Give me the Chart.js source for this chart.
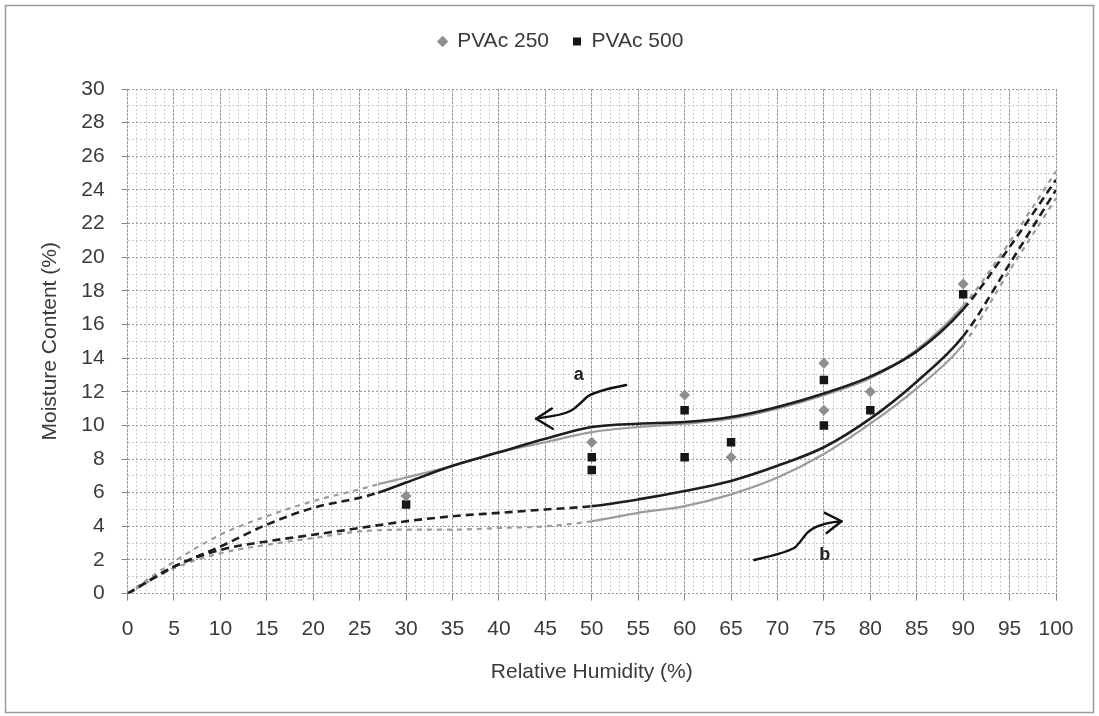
<!DOCTYPE html>
<html>
<head>
<meta charset="utf-8">
<script src="https://cdn.jsdelivr.net/npm/chart.js@4.4.1/dist/chart.umd.min.js"></script>
<style>
html, body { margin: 0; padding: 0; background: #fff; }
#wrap { width: 1099px; height: 716px; }
</style>
</head>
<body>
<div id="wrap"><canvas id="sorptionChart" width="1099" height="716"></canvas></div>
<script>
// measured points
const rh250 = [30, 50, 60, 65, 75, 75, 80, 90];
const mc250 = [5.8, 9.0, 11.8, 8.1, 13.7, 10.9, 12.0, 18.4];
const rh500 = [30, 50, 50, 60, 60, 65, 75, 75, 80, 90];
const mc500 = [5.3, 8.1, 7.35, 10.9, 8.1, 9.0, 12.7, 10.0, 10.9, 17.8];

// fitted curves (a = upper pair, b = lower pair), solid between solidFrom/solidTo, dashed outside
const rhA = [0, 5, 10, 15, 20, 25, 27, 30, 35, 40, 45, 50, 55, 60, 65, 70, 75, 80, 85, 90, 95, 100];
const mcA500 = [0, 1.6, 2.8, 4.1, 5.1, 5.7, 6.0, 6.6, 7.6, 8.4, 9.2, 9.9, 10.1, 10.2, 10.5, 11.1, 11.9, 12.9, 14.4, 16.9, 20.6, 24.6];
const mcA250 = [0, 1.9, 3.5, 4.6, 5.5, 6.2, 6.5, 6.9, 7.6, 8.4, 9.0, 9.6, 9.9, 10.1, 10.4, 11.0, 11.8, 12.8, 14.5, 17.1, 20.9, 25.1];
const rhB = [0, 5, 10, 15, 20, 25, 30, 35, 40, 45, 50, 55, 60, 65, 70, 75, 80, 85, 90, 95, 100];
const mcB500 = [0, 1.6, 2.6, 3.1, 3.5, 3.9, 4.3, 4.6, 4.8, 5.0, 5.2, 5.6, 6.1, 6.7, 7.6, 8.7, 10.4, 12.6, 15.3, 19.6, 24.0];
const mcB250 = [0, 1.5, 2.4, 2.9, 3.3, 3.7, 3.8, 3.8, 3.9, 4.0, 4.3, 4.8, 5.2, 5.9, 6.9, 8.3, 10.1, 12.2, 14.8, 19.2, 23.5];

// hand drawn arrows (data coordinates)
const arrowA = [[53.7, 12.4], [50.0, 12.0], [48.8, 11.3], [47.4, 10.7], [44.0, 10.4]];
const arrowAHead = [[45.7, 11.0], [45.8, 9.8]];
const arrowB = [[67.5, 2.0], [71.5, 2.5], [72.5, 3.1], [73.4, 3.8], [75.2, 4.2], [76.9, 4.3]];
const arrowBHead = [[75.1, 4.8], [75.3, 3.6]];
const labelA = [48.6, 13.0];
const labelB = [75.1, 2.3];

const FONT = "'Liberation Sans', Arial, sans-serif";
const TEXT = '#3a3a3a';
const SIZE = 21;

function pts(xs, ys) {
    return xs.map((x, i) => ({ x: x, y: ys[i] }));
}

function curve(label, xs, ys, color, width, from, to, dash) {
    return {
        type: 'line',
        label: label,
        data: pts(xs, ys),
        showLine: true,
        borderColor: color,
        borderWidth: width,
        pointRadius: 0,
        cubicInterpolationMode: 'monotone',
        fill: false,
        segment: {
            borderDash: ctx => (ctx.p0.parsed.x >= from && ctx.p1.parsed.x <= to) ? [] : dash
        }
    };
}

// white background and outer frame
const framePlugin = {
    id: 'frame',
    beforeDraw(chart) {
        const c = chart.ctx;
        c.save();
        c.fillStyle = '#fff';
        c.fillRect(0, 0, chart.width, chart.height);
        c.strokeStyle = '#9a9a9a';
        c.lineWidth = 1.5;
        c.strokeRect(5.5, 5.5, chart.width - 11, chart.height - 9);
        c.restore();
    }
};

// extra room under the legend, and legend nudged right like the original
const legendGap = {
    id: 'legendGap',
    beforeInit(chart) {
        const fit = chart.legend.fit;
        chart.legend.fit = function () {
            fit.bind(chart.legend)();
            this.height += 27;
        };
    },
    afterLayout(chart) {
        chart.legend.left += 18;
        chart.legend.right += 18;
    }
};

function smoothPath(c, p) {
    c.moveTo(p[0][0], p[0][1]);
    for (let i = 1; i < p.length - 1; i++) {
        const mx = (p[i][0] + p[i + 1][0]) / 2;
        const my = (p[i][1] + p[i + 1][1]) / 2;
        c.quadraticCurveTo(p[i][0], p[i][1], mx, my);
    }
    const last = p[p.length - 1];
    c.lineTo(last[0], last[1]);
}

const arrowPlugin = {
    id: 'arrows',
    afterDatasetsDraw(chart) {
        const c = chart.ctx;
        const sx = chart.scales.x, sy = chart.scales.y;
        const px = d => [sx.getPixelForValue(d[0]), sy.getPixelForValue(d[1])];
        c.save();
        c.strokeStyle = '#111';
        c.lineWidth = 2.4;
        c.lineCap = 'round';
        c.lineJoin = 'round';
        [[arrowA, arrowAHead], [arrowB, arrowBHead]].forEach(([path, head]) => {
            const p = path.map(px);
            c.beginPath();
            smoothPath(c, p);
            c.stroke();
            const tip = p[p.length - 1];
            c.beginPath();
            head.map(px).forEach(h => { c.moveTo(h[0], h[1]); c.lineTo(tip[0], tip[1]); });
            c.stroke();
        });
        c.fillStyle = '#222';
        c.font = 'bold 18px ' + FONT;
        c.textAlign = 'center';
        c.textBaseline = 'middle';
        let a = px(labelA), b = px(labelB);
        c.fillText('a', a[0], a[1]);
        c.fillText('b', b[0], b[1]);
        c.restore();
    }
};

const ctx = document.getElementById('sorptionChart').getContext('2d');
new Chart(ctx, {
    type: 'scatter',
    data: {
        datasets: [
            {
                label: 'PVAc 250',
                data: pts(rh250, mc250),
                pointStyle: 'rectRot',
                pointRadius: 5.5,
                backgroundColor: '#8e8e8e',
                borderColor: '#8e8e8e',
                borderWidth: 0
            },
            {
                label: 'PVAc 500',
                data: pts(rh500, mc500),
                pointStyle: 'rect',
                pointRadius: 6,
                backgroundColor: '#161616',
                borderColor: '#161616',
                borderWidth: 0
            },
            curve('a 500', rhA, mcA500, '#1e1e1e', 2.6, 27, 90, [8, 5]),
            curve('a 250', rhA, mcA250, '#9c9c9c', 2.2, 27, 90, [5, 5]),
            curve('b 500', rhB, mcB500, '#1e1e1e', 2.6, 50, 90, [8, 5]),
            curve('b 250', rhB, mcB250, '#9c9c9c', 2.2, 50, 90, [5, 5])
        ]
    },
    options: {
        responsive: false,
        animation: false,
        layout: { padding: { top: 7, right: 43, bottom: 31, left: 30 } },
        plugins: {
            legend: {
                position: 'top',
                labels: {
                    usePointStyle: true,
                    boxWidth: 8,
                    boxHeight: 8,
                    padding: 24,
                    color: TEXT,
                    font: { family: FONT, size: SIZE },
                    filter: item => item.datasetIndex < 2
                }
            },
            tooltip: { enabled: false }
        },
        scales: {
            x: {
                type: 'linear',
                min: 0,
                max: 100,
                ticks: {
                    stepSize: 1,
                    autoSkip: false,
                    maxRotation: 0,
                    padding: 16,
                    color: TEXT,
                    font: { family: FONT, size: SIZE },
                    callback: v => (v % 5 === 0 ? v : '')
                },
                grid: {
                    color: c => (c.tick.value % 5 === 0 ? '#9a9a9a' : '#cdcdcd'),
                    tickColor: c => (c.tick.value % 5 === 0 ? '#888' : 'rgba(0,0,0,0)'),
                    tickLength: 7,
                    lineWidth: 1
                },
                border: { display: false, dash: c => (c.tick && c.tick.value % 5 === 0 ? [3, 1] : [2, 2]) },
                title: {
                    display: true,
                    text: 'Relative Humidity (%)',
                    color: TEXT,
                    font: { family: FONT, size: SIZE },
                    padding: { top: 2, bottom: 0 }
                }
            },
            y: {
                min: 0,
                max: 30,
                ticks: {
                    stepSize: 1,
                    autoSkip: false,
                    padding: 17,
                    color: TEXT,
                    font: { family: FONT, size: SIZE },
                    callback: v => (v % 2 === 0 ? v : '')
                },
                grid: {
                    color: c => (c.tick.value % 2 === 0 ? '#9a9a9a' : '#c8c8c8'),
                    tickColor: c => (c.tick.value % 2 === 0 ? '#888' : 'rgba(0,0,0,0)'),
                    tickLength: 6,
                    lineWidth: 1
                },
                border: { display: false, dash: [2, 2] },
                title: {
                    display: true,
                    text: 'Moisture Content (%)',
                    color: TEXT,
                    font: { family: FONT, size: SIZE },
                    padding: { top: 8, bottom: 1 }
                }
            }
        }
    },
    plugins: [framePlugin, legendGap, arrowPlugin]
});
</script>
</body>
</html>
